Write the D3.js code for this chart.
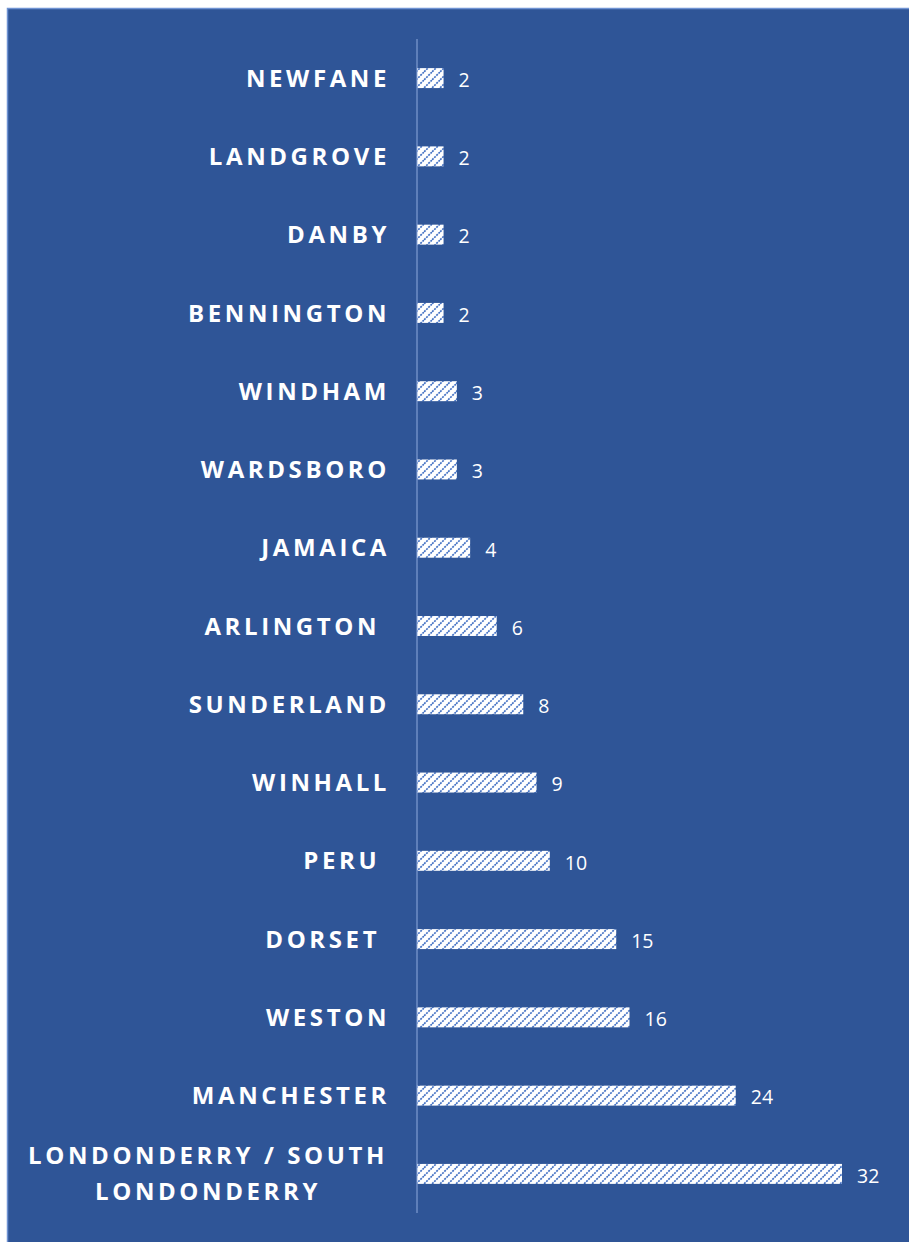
<!DOCTYPE html>
<html>
<head>
<meta charset="utf-8">
<script src="https://cdn.jsdelivr.net/npm/d3@7"></script>
<style>
  html, body { margin: 0; padding: 0; background: #fff; }
  svg { display: block; }
</style>
</head>
<body>
<div id="chart"></div>
<script>
// Towns, top to bottom, and their counts
const towns = [
  'NEWFANE', 'LANDGROVE', 'DANBY', 'BENNINGTON', 'WINDHAM', 'WARDSBORO',
  'JAMAICA', 'ARLINGTON ', 'SUNDERLAND', 'WINHALL', 'PERU ', 'DORSET ',
  'WESTON', 'MANCHESTER', 'LONDONDERRY / SOUTH|LONDONDERRY'
];
const counts = [2, 2, 2, 2, 3, 3, 4, 6, 8, 9, 10, 15, 16, 24, 32];

const width = 909;
const height = 1242;
const margin = {top: 39, right: 68, bottom: 29, left: 417};

const data = towns.map((t, i) => ({town: t, value: counts[i]}));

const svg = d3.select('#chart')
  .append('svg')
  .attr('width', width)
  .attr('height', height);

// hatched fill for bars
const defs = svg.append('defs');
const pat = defs.append('pattern')
  .attr('id', 'hatch')
  .attr('patternUnits', 'userSpaceOnUse')
  .attr('width', 8)
  .attr('height', 8);
pat.append('rect')
  .attr('width', 8).attr('height', 8)
  .attr('fill', '#ffffff');
pat.append('path')
  .attr('d', 'M-2,10 L10,-2 M-2,2 L2,-2 M6,10 L10,6')
  .attr('stroke', '#4472c4')
  .attr('stroke-width', 1.7)
  .attr('stroke-dasharray', '2,1');

// panel
svg.append('rect')
  .attr('x', 7.5)
  .attr('y', 8.5)
  .attr('width', width)
  .attr('height', height)
  .attr('fill', '#2f5597')
  .attr('stroke', '#6f93d3')
  .attr('stroke-width', 1.5);

const x = d3.scaleLinear()
  .domain([0, 32])
  .range([margin.left, 842]);

const y = d3.scaleBand()
  .domain(towns)
  .range([margin.top, height - margin.bottom])
  .paddingInner(0.745)
  .paddingOuter(0.372);

// bars
svg.append('g')
  .selectAll('rect')
  .data(data)
  .join('rect')
  .attr('x', x(0))
  .attr('y', d => y(d.town))
  .attr('width', d => x(d.value) - x(0))
  .attr('height', y.bandwidth())
  .attr('fill', 'url(#hatch)');

// axis line
svg.append('line')
  .attr('x1', x(0)).attr('x2', x(0))
  .attr('y1', margin.top).attr('y2', height - margin.bottom)
  .attr('stroke', '#8faadc')
  .attr('stroke-width', 1);

// category labels (trailing space kept as nbsp so it pushes the text left)
const nb = s => s.replace(/ $/, '\u00A0');
const labelX = 390;

const labels = svg.append('g')
  .attr('fill', '#ffffff')
  .attr('font-family', '"Open Sans", sans-serif')
  .attr('font-weight', 'bold')
  .attr('font-size', 24)
  .attr('letter-spacing', 3.6)
  .selectAll('text')
  .data(data)
  .join('text')
  .attr('text-anchor', 'end')
  .attr('transform', d => `translate(${labelX},${y(d.town) + y.bandwidth() / 2})`);

labels.each(function(d) {
  const lines = d.town.split('|');
  const t = d3.select(this);
  if (lines.length === 1) {
    t.append('tspan').attr('x', 0).attr('dy', '0.36em').text(nb(lines[0]));
  } else {
    // two lines, centred on each other, block right-aligned
    const first = t.append('tspan').attr('x', 0).attr('dy', '-0.42em').text(lines[0]);
    const w = this.getComputedTextLength();
    t.attr('text-anchor', 'middle');
    first.attr('x', -w / 2 - 2);
    t.append('tspan').attr('x', -w / 2 - 2).attr('dy', '1.52em').text(lines[1]);
  }
});

// value labels
svg.append('g')
  .attr('fill', '#ffffff')
  .attr('font-family', '"Open Sans", sans-serif')
  .attr('font-size', 19.5)
  .selectAll('text')
  .data(data)
  .join('text')
  .attr('x', d => x(d.value) + 15)
  .attr('y', d => y(d.town) + y.bandwidth() / 2)
  .attr('dy', '0.45em')
  .text(d => d.value);
</script>
</body>
</html>
